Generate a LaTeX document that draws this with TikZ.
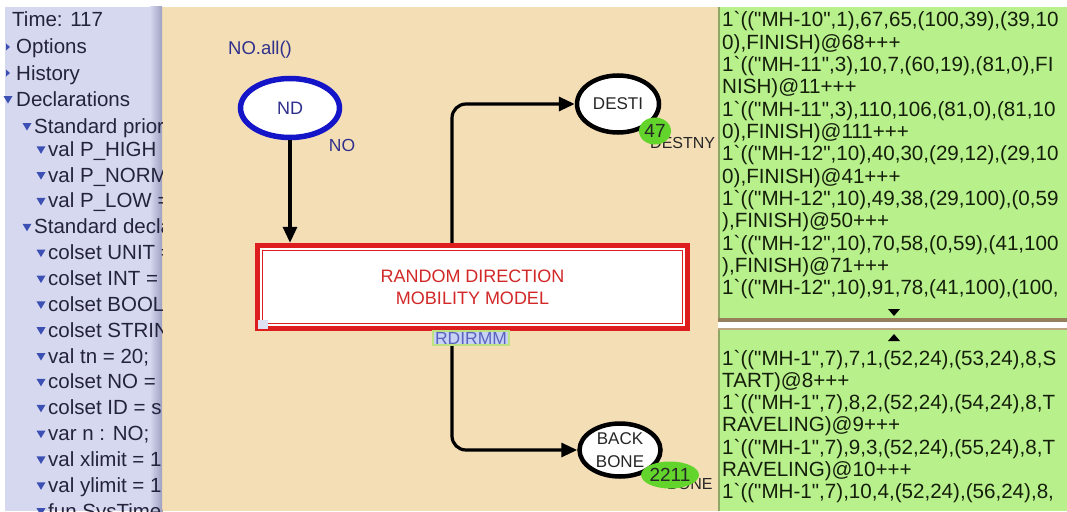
\documentclass[tikz,border=0pt]{standalone}
\usepackage{fontspec}
\setmainfont{Liberation Sans}[Ligatures=TeXOff]
\usetikzlibrary{arrows.meta,shapes.geometric}

\definecolor{lav}{RGB}{214,216,240}
\definecolor{lavedge}{RGB}{158,160,192}
\definecolor{canvas}{RGB}{244,222,182}
\definecolor{bindgreen}{RGB}{184,240,140}
\definecolor{bindedge}{RGB}{140,168,100}
\definecolor{bindshadow}{RGB}{150,128,92}
\definecolor{tokgreen}{RGB}{98,212,44}
\definecolor{transred}{RGB}{222,30,30}
\definecolor{transtext}{RGB}{210,40,40}
\definecolor{placeblue}{RGB}{20,20,200}
\definecolor{navy}{RGB}{48,48,140}
\definecolor{treetext}{RGB}{35,35,60}
\definecolor{tricol}{RGB}{60,80,180}
\definecolor{bindtext}{RGB}{20,30,10}
\definecolor{tagfill}{RGB}{200,210,245}
\definecolor{tagedge}{RGB}{190,225,130}
\definecolor{tagtext}{RGB}{90,100,190}

\newcommand\pxsize[1]{\fontsize{#1}{#1}\selectfont}
\newcommand\bq{\symbol{96}}
\newcommand\dq{\symbol{34}}
% open (down) and closed (right) tree triangles, centred at (#1,#2)
\newcommand\opentri[2]{\fill[tricol] (#1-4.5,#2-3) -- (#1+4.5,#2-3) -- (#1,#2+4.5) -- cycle;}
\newcommand\closedtri[2]{\fill[tricol] (#1-2,#2-3.5) -- (#1-2,#2+3.5) -- (#1+2,#2) -- cycle;}

\begin{document}
\begin{tikzpicture}[x=1pt,y=-1pt,
  tree/.style={anchor=base west, inner sep=0, text=treetext, font=\pxsize{20.5}},
  bind/.style={anchor=base west, inner sep=0, text=bindtext, font=\pxsize{20.6}},
  place/.style={ellipse, draw=black, line width=4.5pt, fill=white, inner sep=0,
    font=\fontsize{17}{23}\selectfont, text=black!85, align=center},
  arc/.style={line width=3.2pt, -{Triangle[length=16pt,width=14pt]}},
  token/.style={ellipse, fill=tokgreen, inner sep=0, font=\pxsize{19}, text=black!85},
  typelabel/.style={anchor=base west, inner sep=0, font=\pxsize{16}, text=black!85},
  navylabel/.style={inner sep=0, text=navy}
]
\useasboundingbox (0,0) rectangle (1067,511);
\fill[white] (0,0) rectangle (1067,511);

% ---------- editing canvas ----------
\fill[canvas] (160,7) rectangle (718,511);

% ---------- index panel ----------
\fill[lav] (5,7) rectangle (152,511);
\shade[left color=lav, right color=lavedge] (150,7) rectangle (162,511);
\begin{scope}
  \clip (0,7) rectangle (162,511);
  \node[tree] (time) at (12,27) {Time: 117};
  \closedtri{8}{47}
  \node[tree] (opt) at (16,54) {Options};
  \closedtri{8}{73}
  \node[tree] (hist) at (16,80) {History};
  \opentri{8}{99}
  \node[tree] (decl) at (16,106) {Declarations};
  \opentri{27}{126}
  \node[tree] (prio) at (34,133) {Standard prior};
  \foreach \tx [count=\i from 5] in {{val P\_HIGH =},{val P\_NORMA},{val P\_LOW =}}{
    \pgfmathsetmacro\yy{20+25.85*\i}
    \opentri{41}{\yy}
    \node[tree] at (48,\yy+7) {\tx};
  }
  \opentri{27}{226.8}
  \node[tree] (stdd) at (34,233.8) {Standard decla};
  \foreach \tx [count=\i from 9] in {{colset UNIT =},{colset INT =},{colset BOOL},
      {colset STRIN},{val tn = 20;},{colset NO =},{colset ID = s},{var n : NO;},
      {val xlimit = 1},{val ylimit = 1},{fun SysTime(}}{
    \pgfmathsetmacro\yy{20+25.85*\i}
    \opentri{41}{\yy}
    \node[tree] at (48,\yy+7) {\tx};
  }
\end{scope}

% ---------- binding / marking panels ----------
\fill[bindshadow] (718,7) rectangle (1067,322);
\fill[bindgreen] (720,7) rectangle (1067,318);
\draw[bindedge, line width=1.5pt] (719,7) -- (719,318);
\fill[bindshadow!60!canvas] (718,328) rectangle (1067,511);
\fill[bindgreen] (720,330) rectangle (1067,511);
\draw[bindedge, line width=1.5pt] (719,330) -- (719,511);

\begin{scope}
  \clip (720,7) rectangle (1067,318);
  \foreach \tx [count=\i from 0] in {
      {1\bq((\dq MH-10\dq,1),67,65,(100,39),(39,10},
      {0),FINISH)@68+++},
      {1\bq((\dq MH-11\dq,3),10,7,(60,19),(81,0),FI},
      {NISH)@11+++},
      {1\bq((\dq MH-11\dq,3),110,106,(81,0),(81,10},
      {0),FINISH)@111+++},
      {1\bq((\dq MH-12\dq,10),40,30,(29,12),(29,10},
      {0),FINISH)@41+++},
      {1\bq((\dq MH-12\dq,10),49,38,(29,100),(0,59},
      {),FINISH)@50+++},
      {1\bq((\dq MH-12\dq,10),70,58,(0,59),(41,100},
      {),FINISH)@71+++},
      {1\bq((\dq MH-12\dq,10),91,78,(41,100),(100,}}{
    \node[bind] at (722,27+22.3*\i) {\tx};
  }
  \fill[black] (888,309) -- (900,309) -- (894,316) -- cycle;
\end{scope}

\begin{scope}
  \clip (720,330) rectangle (1067,511);
  \fill[black] (888,341) -- (900,341) -- (894,334) -- cycle;
  \foreach \tx [count=\i from 0] in {
      {1\bq((\dq MH-1\dq,7),7,1,(52,24),(53,24),8,S},
      {TART)@8+++},
      {1\bq((\dq MH-1\dq,7),8,2,(52,24),(54,24),8,T},
      {RAVELING)@9+++},
      {1\bq((\dq MH-1\dq,7),9,3,(52,24),(55,24),8,T},
      {RAVELING)@10+++},
      {1\bq((\dq MH-1\dq,7),10,4,(52,24),(56,24),8,}}{
    \node[bind] at (722,365+22.3*\i) {\tx};
  }
\end{scope}

% ---------- net ----------
\node[navylabel, font=\pxsize{18.5}] (init) at (260,50) {NO.all()};
\node[place, draw=placeblue, line width=5.5pt, minimum width=99pt, minimum height=59pt,
      text=navy, font=\pxsize{18}] (ND) at (290,108) {ND};
\node[navylabel, font=\pxsize{17.5}] (ndtype) at (342,145) {NO};

\node[draw=none, fill=white, inner sep=0, minimum width=435pt, minimum height=88pt,
      text=transtext, align=center, font=\fontsize{18}{22}\selectfont] (T) at (472.5,287)
      {RANDOM DIRECTION\\MOBILITY MODEL};
\draw[transred, line width=5pt] ([xshift=2.5pt,yshift=-2.5pt]T.north west)
      rectangle ([xshift=-2.5pt,yshift=2.5pt]T.south east);
\draw[transred, line width=1.3pt] ([xshift=8pt,yshift=-8pt]T.north west)
      rectangle ([xshift=-8pt,yshift=8pt]T.south east);
\fill[lav!80!white] (258,320) rectangle (268,329);

\node[place, minimum width=82pt, minimum height=57pt] (DESTI) at (618,104) {DESTI};
\node[place, minimum width=81pt, minimum height=53pt] (BB) at (620,450) {BACK\\BONE};

\node[typelabel] (dtype) at (650,148) {DESTNY};
\node[typelabel] (btype) at (667,489) {BONE};
\node[token, minimum width=32pt, minimum height=27pt] (tok1) at (655,131) {47};
\node[token, minimum width=56pt, minimum height=27pt] (tok2) at (670,475) {2211};

\coordinate (tx) at (452,287);
\draw[arc] (ND.south) -- (T.north -| ND.south);
\draw[arc, rounded corners=14pt] (T.north -| tx) |- (DESTI.west);
\draw[arc, rounded corners=14pt] (T.south -| tx) |- (BB.west);

\node[fill=tagfill, draw=tagedge, line width=1.8pt, inner xsep=2pt, inner ysep=1pt,
      text=tagtext, font=\pxsize{17.5}] (tag) at (471,338) {RDIRMM};
\end{tikzpicture}
\end{document}
